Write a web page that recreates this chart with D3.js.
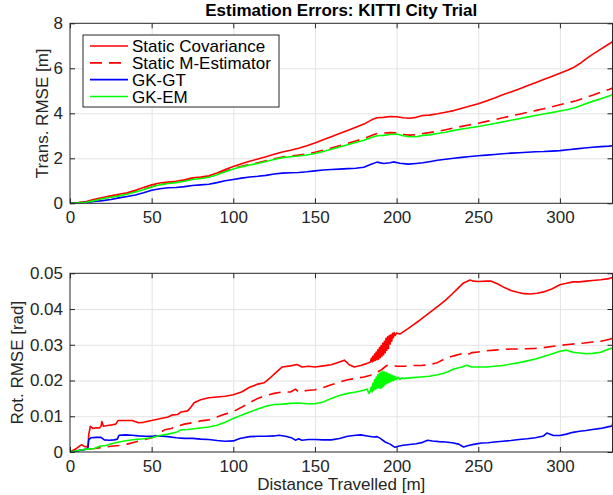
<!DOCTYPE html>
<html>
<head>
<meta charset="utf-8">
<script src="https://cdn.jsdelivr.net/npm/d3@7"></script>
<style>
	html, body { margin: 0; padding: 0; background: white; }
	#outer { width: 613px; height: 495px; }
	text { font-family: 'Liberation Sans', Arial, Helvetica, sans-serif; }
</style>
</head>
<body>
<div id="outer"></div>
<script>
////////// DATA //////////
const chartTitle = 'Estimation Errors: KITTI City Trial';
const seriesNames = ['Static Covariance', 'Static M-Estimator', 'GK-GT', 'GK-EM'];
const xTicks = [0, 50, 100, 150, 200, 250, 300];
const transTicks = [0, 2, 4, 6, 8];
const rotTicks = [0, 0.01, 0.02, 0.03, 0.04, 0.05];

// translation RMSE [m] vs distance [m]
const transStaticCov = [[0,0],[5,0.03],[10,0.08],[15,0.18],[20,0.26],[25,0.33],[30,0.40],[35,0.47],[40,0.58],[45,0.70],[50,0.82],[55,0.90],[60,0.95],[65,0.98],[70,1.05],[75,1.13],[80,1.17],[85,1.22],[90,1.35],[95,1.50],[100,1.64],[105,1.76],[110,1.87],[115,1.97],[120,2.07],[125,2.18],[130,2.28],[135,2.36],[140,2.45],[145,2.56],[150,2.68],[155,2.82],[160,2.96],[165,3.10],[170,3.24],[175,3.38],[180,3.52],[185,3.72],[188,3.80],[192,3.82],[196,3.86],[200,3.85],[204,3.80],[208,3.78],[212,3.82],[216,3.90],[220,3.92],[225,3.98],[230,4.05],[235,4.12],[240,4.22],[245,4.32],[250,4.42],[255,4.55],[260,4.68],[265,4.82],[270,4.95],[275,5.08],[280,5.22],[285,5.36],[290,5.50],[295,5.64],[300,5.78],[305,5.92],[308,6.02],[312,6.20],[316,6.42],[320,6.62],[325,6.85],[330,7.08],[333,7.22]];
const transStaticM = [[0,0],[5,0.02],[10,0.06],[15,0.13],[20,0.21],[25,0.28],[30,0.35],[35,0.42],[40,0.52],[45,0.62],[50,0.74],[55,0.84],[60,0.90],[65,0.94],[70,1.00],[75,1.08],[80,1.12],[85,1.18],[90,1.30],[95,1.43],[100,1.55],[105,1.65],[110,1.73],[115,1.80],[120,1.89],[125,1.98],[130,2.06],[135,2.10],[140,2.14],[145,2.20],[150,2.27],[155,2.36],[160,2.46],[165,2.56],[170,2.66],[175,2.77],[180,2.88],[185,3.02],[188,3.10],[192,3.12],[196,3.14],[200,3.13],[204,3.06],[208,3.03],[212,3.05],[216,3.10],[220,3.14],[225,3.20],[230,3.27],[235,3.35],[240,3.42],[245,3.49],[250,3.56],[255,3.64],[260,3.72],[265,3.80],[270,3.88],[275,3.96],[280,4.04],[285,4.12],[290,4.20],[295,4.29],[300,4.38],[305,4.47],[310,4.56],[315,4.68],[320,4.80],[325,4.94],[330,5.06],[333,5.14]];
const transGKGT = [[0,0],[5,0.01],[10,0.04],[15,0.08],[20,0.12],[25,0.17],[30,0.24],[35,0.30],[40,0.37],[45,0.47],[50,0.58],[55,0.65],[60,0.69],[65,0.70],[70,0.74],[75,0.79],[80,0.82],[85,0.85],[90,0.92],[95,1.00],[100,1.06],[105,1.12],[110,1.17],[115,1.20],[120,1.24],[125,1.30],[130,1.34],[135,1.36],[140,1.37],[145,1.40],[150,1.44],[155,1.48],[160,1.50],[165,1.52],[170,1.54],[175,1.56],[180,1.60],[184,1.72],[188,1.83],[192,1.77],[196,1.80],[198,1.84],[202,1.78],[207,1.74],[212,1.77],[216,1.80],[220,1.85],[225,1.91],[230,1.96],[235,2.00],[240,2.04],[245,2.08],[250,2.11],[255,2.14],[260,2.17],[265,2.20],[270,2.23],[275,2.25],[280,2.27],[285,2.29],[290,2.30],[295,2.32],[300,2.34],[305,2.38],[310,2.42],[315,2.46],[320,2.49],[325,2.52],[330,2.54],[333,2.56]];
const transGKEM = [[0,0],[5,0.02],[10,0.05],[15,0.12],[20,0.20],[25,0.27],[30,0.33],[35,0.40],[40,0.50],[45,0.60],[50,0.72],[55,0.82],[60,0.88],[65,0.92],[70,0.98],[75,1.06],[80,1.10],[85,1.16],[90,1.27],[95,1.40],[100,1.52],[105,1.62],[110,1.70],[115,1.77],[120,1.86],[125,1.95],[130,2.03],[135,2.07],[140,2.10],[145,2.15],[150,2.21],[155,2.30],[160,2.40],[165,2.50],[170,2.60],[175,2.70],[180,2.80],[185,2.94],[188,3.00],[192,3.02],[196,3.06],[200,3.08],[204,3.00],[208,2.96],[212,2.96],[216,3.02],[220,3.04],[225,3.10],[230,3.16],[235,3.24],[240,3.30],[245,3.36],[250,3.41],[255,3.48],[260,3.55],[265,3.62],[270,3.69],[275,3.76],[280,3.83],[285,3.90],[290,3.97],[295,4.03],[300,4.10],[305,4.17],[310,4.27],[315,4.40],[320,4.53],[325,4.65],[330,4.77],[333,4.85]];

// rotation RMSE [rad] vs distance [m]
const rotStaticCov = [[0,0],[2,0.0005],[4,0.001],[6,0.0017],[7,0.002],[8,0.0018],[9,0.0015],[11,0.0015],[11.5,0.005],[12.5,0.0072],[14,0.0066],[16,0.0068],[18,0.0067],[19,0.0072],[19.5,0.0085],[20.5,0.0072],[23,0.0074],[26,0.0076],[28,0.0078],[29.5,0.0088],[33,0.0088],[38,0.0088],[42,0.0082],[45,0.0083],[50,0.0088],[55,0.0093],[60,0.0098],[63,0.0104],[66,0.0105],[68,0.0112],[72,0.0115],[74,0.0125],[76,0.0138],[80,0.0146],[85,0.0152],[90,0.0154],[95,0.0156],[100,0.016],[105,0.0168],[110,0.0181],[115,0.019],[119,0.0194],[122,0.0205],[126,0.0222],[130,0.0238],[135,0.0241],[139,0.0245],[142,0.0238],[146,0.024],[150,0.0238],[155,0.0241],[160,0.0244],[165,0.0252],[168,0.0257],[171,0.0244],[174,0.0238],[178,0.0242],[182,0.0248],[184,0.0252],[184.5,0.0262],[185,0.0252],[185.5,0.0268],[186,0.0254],[186.5,0.0274],[187,0.0256],[187.5,0.028],[188,0.0258],[188.5,0.0286],[189,0.026],[189.5,0.0292],[190,0.0264],[190.5,0.0298],[191,0.0268],[191.5,0.0304],[192,0.0272],[192.5,0.031],[193,0.0278],[193.5,0.0318],[194,0.0284],[194.5,0.0322],[195,0.029],[195.5,0.0326],[196,0.0302],[196.5,0.0328],[197,0.031],[197.5,0.0332],[198,0.032],[198.5,0.0334],[199,0.0326],[200,0.0333],[202,0.033],[204,0.0336],[207,0.0345],[210,0.0355],[214,0.0368],[218,0.0382],[222,0.0396],[226,0.041],[230,0.0425],[234,0.0442],[238,0.046],[241,0.0473],[243,0.0477],[245,0.0481],[247,0.0478],[250,0.0477],[255,0.0478],[258,0.0478],[262,0.047],[266,0.046],[270,0.0452],[274,0.0447],[278,0.0443],[282,0.0442],[286,0.0444],[290,0.0448],[295,0.0456],[300,0.0468],[304,0.0472],[308,0.0476],[312,0.0476],[316,0.0478],[320,0.048],[325,0.0482],[330,0.0485],[333,0.049]];
const rotStaticM = [[0,0],[5,0.0004],[10,0.0008],[15,0.001],[20,0.0013],[25,0.0016],[30,0.0018],[35,0.0022],[40,0.0028],[45,0.0034],[50,0.004],[55,0.0054],[58,0.0062],[62,0.0066],[66,0.0072],[70,0.0078],[75,0.0082],[80,0.0087],[85,0.009],[90,0.0098],[95,0.0106],[100,0.0113],[105,0.0125],[110,0.0138],[115,0.015],[120,0.0158],[125,0.0164],[130,0.0168],[135,0.0168],[138,0.0176],[140,0.0168],[145,0.0172],[150,0.0174],[155,0.018],[160,0.0188],[165,0.0196],[170,0.0202],[175,0.0206],[180,0.021],[185,0.0216],[190,0.0228],[194,0.0242],[197,0.0244],[200,0.024],[205,0.024],[210,0.0242],[215,0.0242],[220,0.0244],[225,0.025],[230,0.0262],[235,0.0269],[240,0.0275],[243,0.0272],[246,0.0278],[250,0.028],[255,0.0283],[260,0.0285],[265,0.0287],[270,0.0288],[275,0.0288],[280,0.0289],[285,0.029],[290,0.0292],[295,0.0295],[300,0.0298],[305,0.0301],[310,0.0303],[315,0.0305],[320,0.0308],[325,0.031],[330,0.0315],[333,0.0319]];
const rotGKGT = [[0,0],[4,0.0003],[8,0.0006],[10,0.0008],[11,0.0012],[11.5,0.0035],[13,0.004],[16,0.0041],[19,0.0041],[21,0.0034],[24,0.0033],[27,0.0034],[29,0.0036],[30,0.0047],[34,0.0048],[38,0.0047],[42,0.0045],[46,0.0044],[50,0.0044],[55,0.0045],[60,0.0043],[65,0.004],[70,0.0038],[75,0.0038],[80,0.0036],[85,0.0035],[90,0.0032],[95,0.003],[100,0.0031],[104,0.0038],[110,0.0043],[115,0.0044],[120,0.0044],[125,0.0045],[128,0.0047],[132,0.0044],[136,0.0039],[138,0.0033],[140,0.0037],[142,0.0033],[146,0.0035],[150,0.0035],[155,0.0034],[160,0.0034],[165,0.0038],[170,0.0044],[175,0.0047],[178,0.0048],[182,0.0045],[186,0.0042],[188,0.0043],[190,0.0038],[193,0.0028],[196,0.0022],[199,0.0013],[201,0.0016],[204,0.0019],[208,0.0021],[212,0.0023],[216,0.0027],[219,0.0033],[222,0.0031],[226,0.0029],[230,0.0028],[234,0.0026],[238,0.0022],[241,0.0014],[244,0.0018],[248,0.0022],[252,0.0025],[256,0.0026],[260,0.0028],[265,0.003],[270,0.0032],[275,0.0035],[280,0.0037],[285,0.004],[290,0.0045],[292,0.0053],[296,0.0046],[300,0.0046],[304,0.005],[308,0.0055],[312,0.0058],[316,0.006],[320,0.0063],[325,0.0066],[330,0.0071],[332,0.0073],[333,0.0095]];
const rotGKEM = [[0,0],[3,0.0003],[6,0.0005],[10,0.0008],[15,0.001],[18,0.0016],[22,0.0018],[26,0.0024],[30,0.0028],[35,0.0032],[40,0.0035],[45,0.0037],[50,0.004],[55,0.0046],[60,0.005],[65,0.0055],[68,0.0062],[72,0.0063],[76,0.0065],[80,0.0067],[85,0.007],[90,0.0075],[95,0.0083],[100,0.0094],[105,0.0103],[110,0.0112],[115,0.012],[120,0.0128],[125,0.0133],[130,0.0134],[135,0.0136],[140,0.0137],[145,0.0135],[150,0.0135],[155,0.014],[160,0.015],[165,0.0158],[170,0.0164],[175,0.0168],[180,0.0173],[182,0.0176],[183,0.0164],[184,0.0172],[184.5,0.0182],[185,0.0168],[185.5,0.0192],[186,0.0172],[186.5,0.0202],[187,0.0176],[187.5,0.021],[188,0.0178],[188.5,0.0216],[189,0.018],[189.5,0.022],[190,0.0178],[190.5,0.0224],[191,0.018],[191.5,0.0226],[192,0.0184],[192.5,0.0224],[193,0.0188],[193.5,0.0222],[194,0.0192],[194.5,0.022],[195,0.0194],[195.5,0.0218],[196,0.0196],[196.5,0.0216],[197,0.0198],[197.5,0.0214],[198,0.02],[198.5,0.0212],[199,0.0202],[199.5,0.021],[200,0.0203],[201,0.0209],[202,0.0203],[203,0.0207],[205,0.0206],[210,0.0208],[215,0.021],[220,0.0212],[225,0.0216],[230,0.0222],[235,0.0232],[240,0.0238],[243,0.0243],[246,0.0238],[250,0.0238],[255,0.0238],[260,0.024],[265,0.0242],[270,0.0246],[275,0.025],[280,0.0255],[285,0.026],[290,0.0267],[295,0.0274],[300,0.0282],[304,0.0285],[308,0.0279],[312,0.0277],[316,0.0275],[320,0.0276],[325,0.0279],[330,0.0288],[333,0.0292]];


function drawChart () {
	////////// Hard Coded Defs //////////
	const W = 613, H = 495;
	const axisColor = '#262626';
	const gridColor = '#e3e3e3';
	const fontSize = 17;
	const tickLen = 5;
	const lineWidth = 1.6;
	const seriesStyles = [
		{ color: '#ff0000', dash: null },
		{ color: '#ff0000', dash: '12,7' },
		{ color: '#0000ff', dash: null },
		{ color: '#00ff00', dash: null }
	];
	// draw order: same as legend
	const transSeries = [transStaticCov, transStaticM, transGKGT, transGKEM];
	const rotSeries = [rotStaticCov, rotStaticM, rotGKGT, rotGKEM];

	const left = 70, right = 612.5;
	const x = d3.scaleLinear().domain([0, 332.2]).range([left, right]);

	const svg = d3.select('#outer').append('svg')
		.attr('width', W)
		.attr('height', H);

	// ********************************************* PANEL ******************************************************* //
	const drawPanel = (id, top, bottom, yDomain, yTicks, yFmt, seriesList, yLabel, yLabelX) => {
		const y = d3.scaleLinear().domain(yDomain).range([bottom, top]);
		const g = svg.append('g').attr('class', id);

		g.append('clipPath').attr('id', 'clip-' + id)
			.append('rect')
			.attr('x', left).attr('y', top)
			.attr('width', right - left).attr('height', bottom - top);

		// grid
		g.append('g')
			.attr('transform', `translate(0,${bottom})`)
			.call(d3.axisBottom(x).tickValues(xTicks.slice(1)).tickSize(-(bottom - top)).tickFormat(''))
			.call(a => a.select('.domain').remove())
			.selectAll('line').attr('stroke', gridColor);
		g.append('g')
			.attr('transform', `translate(${left},0)`)
			.call(d3.axisLeft(y).tickValues(yTicks.slice(1, -1)).tickSize(-(right - left)).tickFormat(''))
			.call(a => a.select('.domain').remove())
			.selectAll('line').attr('stroke', gridColor);

		// curves
		const line = d3.line().x(d => x(d[0])).y(d => y(d[1]));
		const curves = g.append('g').attr('clip-path', `url(#clip-${id})`);
		seriesList.forEach((s, i) => {
			curves.append('path')
				.datum(s)
				.attr('d', line)
				.attr('fill', 'none')
				.attr('stroke', seriesStyles[i].color)
				.attr('stroke-width', lineWidth)
				.attr('stroke-linejoin', 'round')
				.attr('stroke-dasharray', seriesStyles[i].dash);
		});

		// axes (ticks inside, MATLAB look)
		const xAx = g.append('g')
			.attr('transform', `translate(0,${bottom})`)
			.call(d3.axisBottom(x).tickValues(xTicks).tickSize(-tickLen).tickPadding(8).tickFormat(d3.format('d')));
		const xAxTop = g.append('g')
			.attr('transform', `translate(0,${top})`)
			.call(d3.axisTop(x).tickValues(xTicks).tickSize(-tickLen).tickFormat(''));
		const yAx = g.append('g')
			.attr('transform', `translate(${left},0)`)
			.call(d3.axisLeft(y).tickValues(yTicks).tickSize(-tickLen).tickPadding(7).tickFormat(yFmt));
		const yAxRight = g.append('g')
			.attr('transform', `translate(${right},0)`)
			.call(d3.axisRight(y).tickValues(yTicks).tickSize(-tickLen).tickFormat(''));

		[xAx, xAxTop, yAx, yAxRight].forEach(a => {
			a.select('.domain').remove();
			a.selectAll('line').attr('stroke', axisColor);
			a.selectAll('text')
				.attr('fill', axisColor)
				.style('font-size', fontSize + 'px')
				.style('font-family', "'Liberation Sans', Arial, sans-serif");
		});

		g.append('rect')
			.attr('x', left).attr('y', top)
			.attr('width', right - left).attr('height', bottom - top)
			.attr('fill', 'none')
			.attr('stroke', axisColor)
			.attr('stroke-width', 1);

		g.append('text')
			.attr('transform', `translate(${yLabelX},${(top + bottom) / 2}) rotate(-90)`)
			.attr('text-anchor', 'middle')
			.attr('fill', axisColor)
			.style('font-size', fontSize + 'px')
			.text(yLabel);

		return g;
	};

	const topG = drawPanel('trans', 23.3, 203.3, [0, 8], transTicks, d3.format('d'),
		transSeries, 'Trans. RMSE [m]', 48);
	drawPanel('rot', 273.3, 452, [0, 0.05], rotTicks, d => d === 0 ? '0' : d3.format('.2f')(d),
		rotSeries, 'Rot. RMSE [rad]', 23);

	// ********************************************* TITLE & X LABEL ******************************************************* //
	svg.append('text')
		.attr('x', (left + right) / 2)
		.attr('y', 16)
		.attr('text-anchor', 'middle')
		.attr('fill', '#000')
		.style('font-size', fontSize + 'px')
		.style('font-weight', 'bold')
		.text(chartTitle);

	svg.append('text')
		.attr('x', (left + right) / 2)
		.attr('y', 489.5)
		.attr('text-anchor', 'middle')
		.attr('fill', axisColor)
		.style('font-size', fontSize + 'px')
		.text('Distance Travelled [m]');

	// ********************************************* LEGEND ******************************************************* //
	const legend = topG.append('g').attr('class', 'legend');
	legend.append('rect')
		.attr('x', 83).attr('y', 35)
		.attr('width', 196).attr('height', 72)
		.attr('fill', 'white')
		.attr('stroke', axisColor)
		.attr('stroke-width', 1);
	const rowY = d3.scaleLinear().domain([0, 3]).range([46, 96.5]);
	seriesNames.forEach((name, i) => {
		legend.append('line')
			.attr('x1', 90).attr('x2', 128)
			.attr('y1', rowY(i)).attr('y2', rowY(i))
			.attr('stroke', seriesStyles[i].color)
			.attr('stroke-width', lineWidth)
			.attr('stroke-dasharray', seriesStyles[i].dash);
		legend.append('text')
			.attr('x', 132)
			.attr('y', rowY(i) + 6)
			.attr('fill', '#000')
			.style('font-size', fontSize + 'px')
			.text(name);
	});
}

drawChart();
</script>
</body>
</html>
